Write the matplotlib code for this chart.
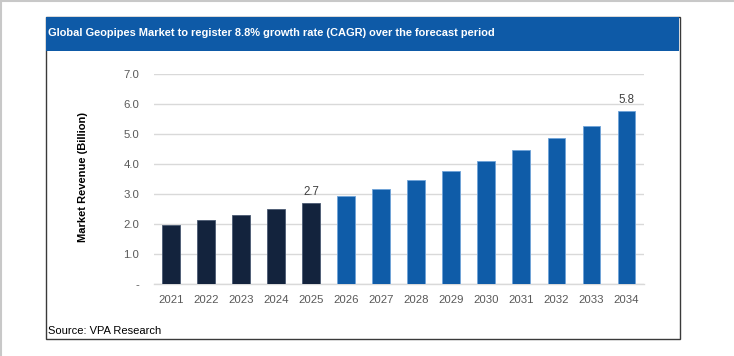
import matplotlib.pyplot as plt
from matplotlib.patches import Rectangle
from matplotlib import font_manager

# Data
years = ["2021", "2022", "2023", "2024", "2025", "2026", "2027",
         "2028", "2029", "2030", "2031", "2032", "2033", "2034"]
revenue = [1.96, 2.12, 2.29, 2.49, 2.69, 2.92, 3.17,
           3.46, 3.77, 4.10, 4.47, 4.86, 5.28, 5.76]
labelled = {"2025": "2.7", "2034": "5.8"}
y_ticks = [0, 1, 2, 3, 4, 5, 6, 7]
y_tick_labels = ["-", "1.0", "2.0", "3.0", "4.0", "5.0", "6.0", "7.0"]
history_end = "2025"

TITLE = "Global Geopipes Market to register 8.8% growth rate (CAGR) over the forecast period"
SOURCE = "Source: VPA Research"

DARK = "#13233d"
BLUE = "#0f5ca8"

names = {f.name for f in font_manager.fontManager.ttflist}
narrow = "Liberation Sans Narrow" if "Liberation Sans Narrow" in names else "Liberation Sans"
title_size = 8.4 if narrow == "Liberation Sans Narrow" else 7.9
plt.rcParams["font.family"] = ["Liberation Sans", "DejaVu Sans"]

W, H = 734, 356
fig = plt.figure(figsize=(W / 100, H / 100), dpi=100)
fig.patch.set_facecolor("white")

def px(x, y):
    return x / W, 1 - y / H

# thin grey page edges (top and left)
fig.add_artist(plt.Line2D([0, 1], [1 - 0.5 / H, 1 - 0.5 / H], color="#c8c8c8", lw=1.5))
fig.add_artist(plt.Line2D([1.5 / W, 1.5 / W], [0, 1], color="#c8c8c8", lw=1.5))

# outer box and title band
x0, y0 = px(45.7, 338.7)
x1, y1 = px(679.7, 16.7)
fig.add_artist(Rectangle((x0, y0), x1 - x0, y1 - y0, transform=fig.transFigure,
                         facecolor="white", edgecolor="#3a3a3a", lw=1.0, zorder=0))
bx, by = px(46.2, 50.7)
fig.add_artist(Rectangle((bx, by), x1 - bx - 0.5 / W, y1 - by, transform=fig.transFigure,
                         facecolor="#0e5aa7", edgecolor="none", zorder=1))
tx, ty = px(48.5, 33.5)
fig.text(tx, ty, TITLE, color="white", fontsize=title_size, family=narrow,
         fontweight="bold", ha="left", va="center")
sx, sy = px(48, 330.5)
fig.text(sx, sy, SOURCE, color="black", fontsize=title_size + 0.1, family=narrow,
         ha="left", va="center")

# plot area
left, bottom = px(153.7, 284)
right, top = px(644, 74)
ax = fig.add_axes([left, bottom, right - left, top - bottom])
ax.set_facecolor("none")

colors = [DARK if int(y) <= int(history_end) else BLUE for y in years]
edges = ["#4a5a72" if int(y) <= int(history_end) else "#6fa3d8" for y in years]
bars = ax.bar(years, revenue, width=0.51, color=colors, edgecolor=edges,
              linewidth=0.6, zorder=3)
for rect, yr in zip(bars, years):
    if yr in labelled:
        ax.annotate(labelled[yr], (rect.get_x() + rect.get_width() / 2, rect.get_height()),
                    xytext=(0, 4), textcoords="offset points", ha="center", va="bottom",
                    fontsize=8.3, color="#404040")

ax.set_xlim(-0.5, len(years) - 0.5)
ax.set_ylim(0, 7)
ax.set_yticks(y_ticks)
ax.set_yticklabels(y_tick_labels)
ax.yaxis.grid(True, color="#d9d9d9", lw=1.0, zorder=0)
ax.set_axisbelow(True)
for s in ["top", "right", "left"]:
    ax.spines[s].set_visible(False)
ax.spines["bottom"].set_color("#d9d9d9")
ax.spines["bottom"].set_linewidth(1.0)
ax.tick_params(axis="both", length=0, labelsize=8.2, labelcolor="#595959")
ax.tick_params(axis="y", pad=10.5)
ax.tick_params(axis="x", pad=8)

lx, ly = px(83.3, 177)
fig.text(lx, ly, "Market Revenue (Billion)", rotation=90, fontsize=8,
         fontweight="bold", color="black", ha="center", va="center")

fig.savefig("out.png", dpi=100)
